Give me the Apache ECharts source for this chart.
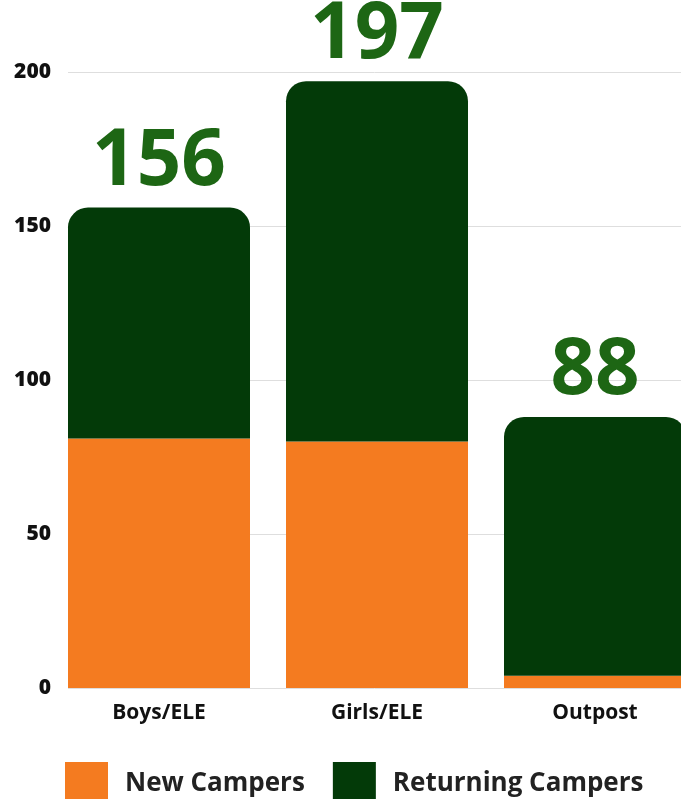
<!DOCTYPE html>
<html>
<head>
<meta charset="utf-8">
<script src="https://cdn.jsdelivr.net/npm/echarts@6/dist/echarts.min.js"></script>
<style>
html,body{margin:0;padding:0;background:#fff;}
#chart{width:681px;height:799px;}
</style>
</head>
<body>
<div id="chart"></div>
<script>
var categories = ['Boys/ELE', 'Girls/ELE', 'Outpost'];
var newCampers = [81, 80, 4];
var returningCampers = [75, 117, 84];
var totals = [156, 197, 88];
var yTicks = [0, 50, 100, 150, 200];

var chart = echarts.init(document.getElementById('chart'));
var font = '"Open Sans", "Noto Sans", sans-serif';
chart.setOption({
  animation: false,
  backgroundColor: '#ffffff',
  grid: [
    {left: 50, top: 72, width: 654, height: 616, containLabel: false, outerBoundsMode: 'none'},
    {left: 68, top: 72, right: 0, height: 616, containLabel: false, outerBoundsMode: 'none'}
  ],
  legend: {
    data: ['New Campers', 'Returning Campers'],
    left: 60,
    top: 757,
    icon: 'rect',
    itemWidth: 43,
    itemHeight: 43,
    itemGap: 28,
    textStyle: {fontFamily: font, fontWeight: 'bold', fontSize: 26, color: '#222', padding: [0, 0, 0, 12]}
  },
  xAxis: [
    {
      type: 'category', gridIndex: 0, data: categories,
      axisLine: {show: false}, axisTick: {show: false},
      axisLabel: {fontFamily: font, fontWeight: 'bold', fontSize: 21, color: '#111', margin: 15}
    },
    {type: 'value', gridIndex: 1, show: false}
  ],
  yAxis: [
    {
      type: 'value', gridIndex: 0, min: 0, max: 200, interval: 50,
      axisLine: {show: false}, axisTick: {show: false}, splitLine: {show: false},
      axisLabel: {fontFamily: font, fontWeight: 800, fontSize: 21, color: '#111', margin: -1,
        formatter: function (v) { return yTicks.indexOf(v) >= 0 ? String(v) : ''; }}
    },
    {
      type: 'value', gridIndex: 1, min: 0, max: 200, interval: 50,
      axisLine: {show: false}, axisTick: {show: false}, axisLabel: {show: false},
      splitLine: {show: true, lineStyle: {color: '#dedede', width: 1}}
    }
  ],
  series: [
    {
      name: 'New Campers', type: 'bar', stack: 'total', xAxisIndex: 0, yAxisIndex: 0,
      barWidth: 182, data: newCampers,
      itemStyle: {color: '#f47b20'}
    },
    {
      name: 'Returning Campers', type: 'bar', stack: 'total', xAxisIndex: 0, yAxisIndex: 0,
      barWidth: 182, data: returningCampers,
      itemStyle: {color: '#033a08', borderRadius: [20, 20, 0, 0]},
      label: {
        show: true, position: 'top', distance: 6,
        fontFamily: font, fontWeight: 'bold', fontSize: 78, color: '#1d6614',
        formatter: function (p) { return String(totals[p.dataIndex]); }
      }
    }
  ]
});
</script>
</body>
</html>
